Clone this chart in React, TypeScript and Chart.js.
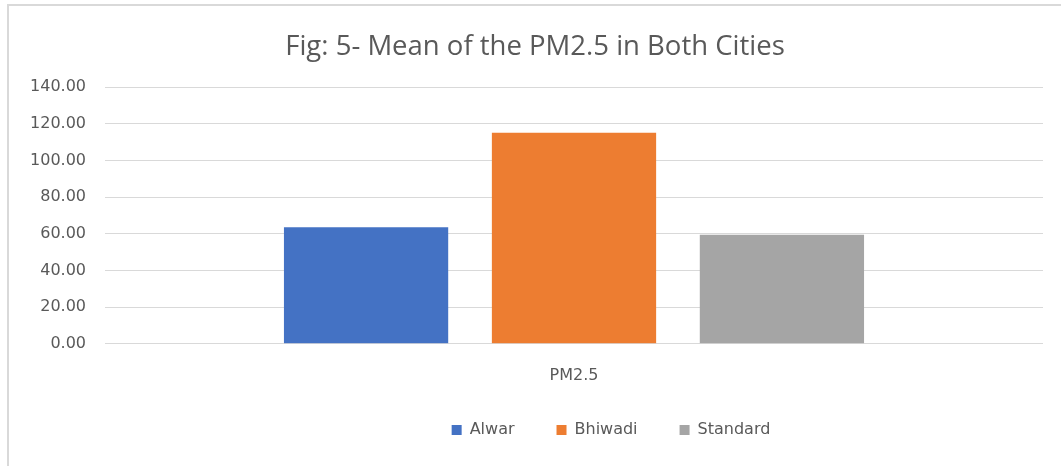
import React, { useEffect, useRef } from "react";
import { Chart, registerables } from "chart.js";

Chart.register(...registerables);

// ---- data ----
const categories = ["PM2.5"];
const seriesNames = ["Alwar", "Bhiwadi", "Standard"];
const alwarValues = [63.6];
const bhiwadiValues = [115.1];
const standardValues = [59.4];
const seriesColors = ["#4472C4", "#ED7D31", "#A5A5A5"];
const yMin = 0;
const yMax = 140;
const yStep = 20;
const titleText = "Fig: 5- Mean of the PM2.5 in Both Cities";

// ---- style ----
const TEXT_COLOR = "#595959";
const GRID_COLOR = "#d9d9d9";
const LABEL_FONT = "'DejaVu Sans', sans-serif";
const TITLE_FONT = "'Open Sans', sans-serif";
const TITLE_DX = 9;
const LEGEND_DX = 85;
const LEGEND_CENTER_Y = 424;
const LEGEND_PADDING = 42;
const LEGEND_FONT_SIZE = 16;

const boxShift = {
  id: "boxShift",
  afterLayout(chart: any) {
    const l = chart.legend;
    if (l) {
      const h = l.height;
      l.left += LEGEND_DX;
      l.right += LEGEND_DX;
      l.top = LEGEND_CENTER_Y - LEGEND_PADDING - LEGEND_FONT_SIZE / 2;
      l.bottom = l.top + h;
    }
    const t = chart.titleBlock;
    if (t) {
      t.left += TITLE_DX;
      t.right += TITLE_DX;
    }
  },
};

export default function App() {
  const canvasRef = useRef<HTMLCanvasElement | null>(null);

  useEffect(() => {
    if (!canvasRef.current) return;
    const seriesValues = [alwarValues, bhiwadiValues, standardValues];
    const chart = new Chart(canvasRef.current, {
      type: "bar",
      data: {
        labels: categories,
        datasets: seriesNames.map((name, i) => ({
          label: name,
          data: seriesValues[i],
          backgroundColor: seriesColors[i],
          borderWidth: 0,
          categoryPercentage: 0.665,
          barPercentage: 0.79,
        })),
      },
      options: {
        responsive: false,
        animation: false,
        layout: { padding: { left: 0, right: 18, top: 0, bottom: 0 } },
        plugins: {
          title: {
            display: true,
            text: titleText,
            color: TEXT_COLOR,
            font: { family: TITLE_FONT, size: 27.5, weight: "normal" },
            padding: { top: 25, bottom: 23 },
          },
          legend: {
            display: true,
            position: "bottom",
            labels: {
              boxWidth: 10,
              boxHeight: 10,
              padding: LEGEND_PADDING,
              color: TEXT_COLOR,
              font: { family: LABEL_FONT, size: LEGEND_FONT_SIZE },
            },
          },
          tooltip: { enabled: false },
        },
        scales: {
          x: {
            grid: { display: false, drawTicks: false },
            border: { display: false },
            ticks: {
              color: TEXT_COLOR,
              padding: 22,
              font: { family: LABEL_FONT, size: 16 },
            },
          },
          y: {
            min: yMin,
            max: yMax,
            grid: { color: GRID_COLOR, lineWidth: 1, drawTicks: false },
            border: { display: false },
            ticks: {
              stepSize: yStep,
              color: TEXT_COLOR,
              padding: 19,
              font: { family: LABEL_FONT, size: 16 },
              callback: (v: any) => Number(v).toFixed(2),
            },
            afterFit: (scale: any) => {
              scale.width = 96;
            },
          },
        },
      },
      plugins: [boxShift],
    });
    return () => chart.destroy();
  }, []);

  return (
    <div
      style={{
        position: "absolute",
        left: 7,
        top: 4,
        width: 1054,
        height: 462,
        borderLeft: "2px solid #d9d9d9",
        borderTop: "2px solid #d9d9d9",
        boxSizing: "border-box",
        background: "#fff",
        overflow: "hidden",
      }}
    >
      <canvas ref={canvasRef} width={1052} height={469} style={{ display: "block" }} />
    </div>
  );
}
